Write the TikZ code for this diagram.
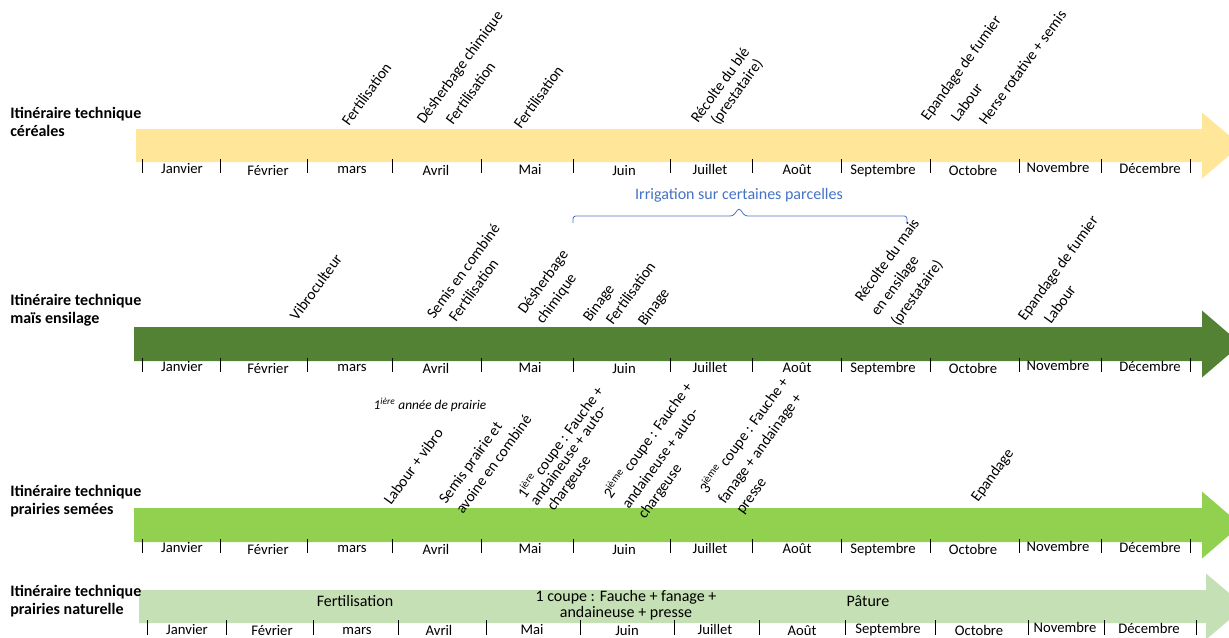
\documentclass[tikz,border=0pt]{standalone}
\usepackage{fontspec}
\setmainfont{Carlito}
\usepackage{xcolor}
\usepackage{tikz}
\usetikzlibrary{positioning}
\definecolor{cereal}{HTML}{FFE699}
\definecolor{mais}{HTML}{548235}
\definecolor{semee}{HTML}{92D050}
\definecolor{naturel}{HTML}{C5E0B4}
\definecolor{irrig}{HTML}{4472C4}

\begin{document}
\begin{tikzpicture}[x=0.75pt,y=-0.75pt,
    month/.style={font=\fontsize{11}{13}\selectfont,anchor=base,inner sep=0pt},
    act/.style={font=\fontsize{11.5}{13}\selectfont,anchor=base west,inner sep=0pt,rotate=54},
    rowlab/.style={font=\fontsize{12}{13.5}\selectfont\bfseries,anchor=west,align=left,inner sep=0pt},
    mtick/.style={black,line width=0.6pt}]
  \useasboundingbox (0,0) rectangle (1229,637);
  \clip (0,0) rectangle (1229,637);
  % arrows: start, top, bottom, head, colour
  \foreach \x/\yt/\yb/\h/\c in {136/129/162/1202/cereal, 134/327/361/1202/mais,
      134/508/542/1202/semee, 139/590/623/1206/naturel}
    \fill[\c] (\x,\yt) -- (\h,\yt) -- (\h,\yt-16.5) -- (\h+39,{(\yt+\yb)/2})
      -- (\h,\yb+16.5) -- (\h,\yb) -- (\x,\yb) -- cycle;
  % months under the first three arrows
  \foreach \yb/\yl/\r in {162/174/c, 361/372/m, 542/553/p} {
    \foreach \x in {142,220,307,392,481,573,670,752,841,930,1019,1101,1190}
      \draw[mtick] (\x,\yb-3) -- (\x,\yb+11);
    \foreach \x/\mon/\dy [count=\i] in {182/Janvier/-1, 268/Février/1, 352/mars/-1,
        436/Avril/1, 530/Mai/0, 624/Juin/1, 710/Juillet/0, 797/Août/0,
        883/Septembre/0, 973/Octobre/1, 1058/Novembre/-2, 1150/Décembre/-1}
      \node[month] (\r\i) at (\x,\yl+\dy) {\mon};
  }
  % months under the last arrow
  \foreach \x in {147,226,313,398,486,580,674,759,845,935,1028,1104,1196}
    \draw[mtick] (\x,620) -- (\x,635);
  \foreach \x/\mon/\dy [count=\i] in {187/Janvier/0, 272/Février/1, 357/mars/0,
      439/Avril/1, 532/Mai/0, 627/Juin/1, 715/Juillet/0, 802/Août/1,
      888/Septembre/-1, 979/Octobre/1, 1065/Novembre/-2, 1149/Décembre/-1}
    \node[month] (n\i) at (\x,634+\dy) {\mon};

  % row titles
  \node[rowlab] (rowc) at (10,122) {Itinéraire technique\\céréales};
  \node[rowlab] (rowm) at (10,310) {Itinéraire technique\\maïs ensilage};
  \node[rowlab] (rowp) at (10,501.5) {Itinéraire technique\\prairies semées};
  \node[rowlab] (rown) at (10,601) {Itinéraire technique\\prairies naturelle};

  % cereales
  \foreach \x/\y/\txt [count=\i] in {349/127/Fertilisation, 424/125/Désherbage chimique,
      453/126/Fertilisation, 521/130/Fertilisation, 698/124/Récolte du blé,
      718/126/(prestataire), 928/122/Epandage de fumier, 958/123/Labour,
      986/126/Herse rotative + semis}
    \node[act] (c\i) at (\x,\y) {\txt};

  % mais ensilage
  \node[font=\fontsize{12}{14}\selectfont,text=irrig] (irr) at (739,195) {Irrigation sur certaines parcelles};
  \draw[irrig,line width=0.6pt,rounded corners=2pt] (573,223) -- (573,216) -- (733,216)
    -- (739,208) -- (745,216) -- (907,216) -- (907,223);
  \foreach \x/\y/\txt [count=\i] in {297/322/Vibroculteur, 434/320/Semis en combiné,
      456/323/Fertilisation, 525/315/Désherbage, 543/325/chimique, 590/323/Binage,
      613/326/Fertilisation, 645/327/Binage, 862/303/Récolte du mais,
      878/317/en ensilage, 898/327/(prestataire), 1025/322/Epandage de fumier,
      1051/325/Labour}
    \node[act] (m\i) at (\x,\y) {\txt};

  % prairies semees
  \node[font=\fontsize{10}{12}\selectfont\itshape] (year) at (430,405) {1\textsuperscript{ière} année de prairie};
  \foreach \x/\y/\txt [count=\i] in {391/506/Labour + vibro, 446/505/Semis prairie et,
      463/515/avoine en combiné, 525/500/1\textsuperscript{ière} coupe : Fauche +,
      537/507/andaineuse + auto-, 554/512/chargeuse,
      611/500/2\textsuperscript{ième} coupe : Fauche +, 629/510/andaineuse + auto-,
      645/520/chargeuse, 707/495/3\textsuperscript{ième} coupe : Fauche +,
      725/505/fanage + andainage +, 743/515/presse, 978/503/Epandage}
    \node[act] (p\i) at (\x,\y) {\txt};

  % prairies naturelles
  \node[month,font=\fontsize{12}{14}\selectfont] (nfert) at (355,606) {Fertilisation};
  \node[month,anchor=center,align=center,font=\fontsize{12}{12}\selectfont] (ncoupe) at (626,605)
    {1 coupe : Fauche + fanage +\\andaineuse + presse};
  \node[month,font=\fontsize{12}{14}\selectfont] (npat) at (868,606) {Pâture};
\end{tikzpicture}
\end{document}
